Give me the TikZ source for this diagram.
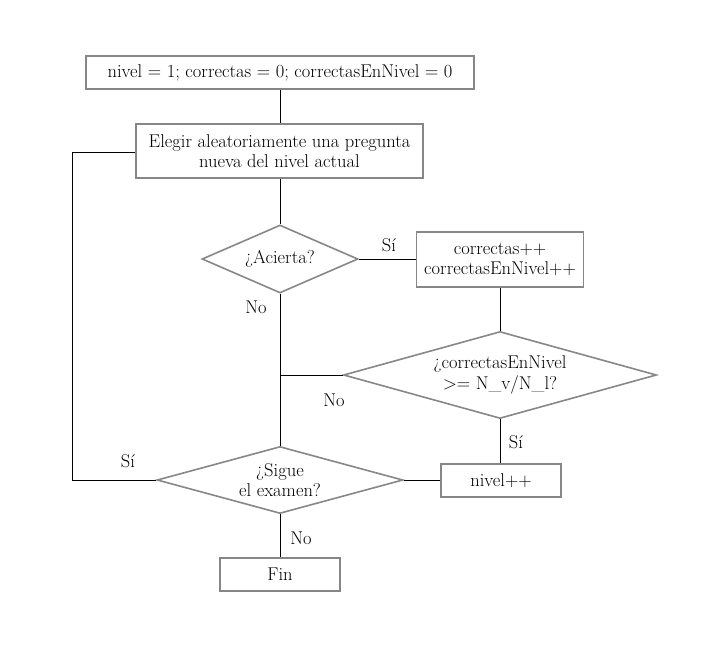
\documentclass[tikz,border=0pt]{standalone}
\usepackage{fontspec}
\usetikzlibrary{shapes.geometric}
\begin{document}
\begin{tikzpicture}[x=1pt,y=-1pt,
  every node/.style={font=\fontsize{18.5}{20.5}\selectfont, align=center},
  procbox/.style={draw=black!47, line width=1.6pt, rectangle, inner sep=0pt},
  decis/.style={draw=black!47, line width=1.6pt, diamond, inner sep=0pt},
  conn/.style={draw=black, line width=0.8pt},
  lbl/.style={inner sep=0pt}]
\useasboundingbox (0,0) rectangle (727,650);
\node[procbox, minimum width=388, minimum height=33] (init) at (280,72.5) {nivel = 1; correctas = 0; correctasEnNivel = 0};
\node[procbox, minimum width=287, minimum height=54] (pick) at (279.5,151) {Elegir aleatoriamente una pregunta\\nueva del nivel actual};
\node[decis, minimum width=156, minimum height=68] (hit) at (280,259) {};
\node[lbl] (hitt) at (hit.center) {¿Acierta?};
\node[procbox, minimum width=167, minimum height=55] (inc) at (500,259.5) {correctas++\\correctasEnNivel++};
\node[decis, minimum width=313, minimum height=87] (lvl) at (500,375) {};
\node[lbl] (lvlt) at (lvl.center) {¿correctasEnNivel\\>= N\_v/N\_l?};
\node[decis, minimum width=246, minimum height=67] (cont) at (280,480) {};
\node[lbl] (contt) at (cont.center) {¿Sigue\\el examen?};
\node[procbox, minimum width=120, minimum height=33] (up) at (501,480.5) {nivel++};
\node[procbox, minimum width=120, minimum height=33] (fin) at (280,574.5) {Fin};
\coordinate (loopl) at (72,152);
\coordinate (loopb) at (72,480);
\coordinate (join) at (281,375);
\draw[conn] (init.south) -- (init.south |- pick.north);
\draw[conn] (pick.south -| hit.north) -- (hit.north);
\draw[conn] (hit.east) -- (inc.west |- hit.east);
\draw[conn] (inc.south -| lvl.north) -- (lvl.north);
\draw[conn] (lvl.south) -- (lvl.south |- up.north);
\draw[conn] (up.west |- cont.east) -- (cont.east);
\draw[conn] (hit.south) -- (cont.north);
\draw[conn] (lvl.west) -- (join);
\draw[conn] (cont.west) -- (loopb) -- (loopl) -- (pick.west |- loopl);
\draw[conn] (cont.south) -- (fin.north);
\node[lbl] (si1) at (389,245) {Sí};
\node[lbl] (no1) at (256,307) {No};
\node[lbl] (no2) at (334,400) {No};
\node[lbl] (si2) at (516,442) {Sí};
\node[lbl] (si3) at (128,461) {Sí};
\node[lbl] (no3) at (301,538) {No};
\end{tikzpicture}
\end{document}
